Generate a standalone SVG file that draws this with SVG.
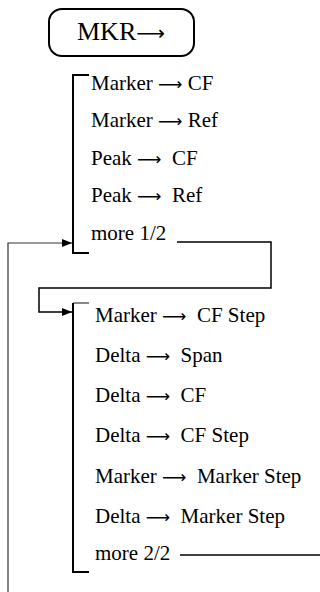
<svg xmlns="http://www.w3.org/2000/svg" width="320" height="592" viewBox="0 0 320 592">
<style>
text{font-family:"Liberation Serif","Times New Roman",serif;font-size:21px;fill:#000;white-space:pre}
.key{font-size:26px}
.ar{font-family:"DejaVu Sans",sans-serif;font-size:17px}
.key .ar{font-size:20px}
.br{fill:none;stroke:#000;stroke-width:2}
.cn{fill:none;stroke:#000;stroke-width:1.5}
</style>
<defs>
<marker id="ah" viewBox="0 0 10 8" refX="10" refY="4" markerWidth="10" markerHeight="8" markerUnits="userSpaceOnUse" orient="auto">
<path d="M0,0 L10,4 L0,8 z" fill="#000"/>
</marker>
</defs>
<rect width="320" height="592" fill="#fff"/>
<g id="mkr-key">
<rect x="49" y="9" width="145" height="47" rx="13" fill="none" stroke="#000" stroke-width="2"/>
<text class="key" x="77" y="40">MKR<tspan class="ar">⟶</tspan></text>
</g>
<g id="menu-1">
<path class="br" d="M89,75 H73 V253 H89"/>
<text x="91" y="90">Marker <tspan class="ar">⟶</tspan> CF</text>
<text x="91" y="127">Marker <tspan class="ar">⟶</tspan> Ref</text>
<text x="91" y="165">Peak <tspan class="ar">⟶</tspan>  CF</text>
<text x="91" y="202">Peak <tspan class="ar">⟶</tspan>  Ref</text>
<text x="91" y="240">more 1/2</text>
</g>
<g id="menu-2">
<path d="M89,303 H73" fill="none" stroke="#888" stroke-width="2"/>
<path class="br" d="M73,303 V572 H89"/>
<text x="95" y="322">Marker <tspan class="ar">⟶</tspan>  CF Step</text>
<text x="95" y="362">Delta <tspan class="ar">⟶</tspan>  Span</text>
<text x="95" y="402">Delta <tspan class="ar">⟶</tspan>  CF</text>
<text x="95" y="442">Delta <tspan class="ar">⟶</tspan>  CF Step</text>
<text x="95" y="483">Marker <tspan class="ar">⟶</tspan>  Marker Step</text>
<text x="95" y="523">Delta <tspan class="ar">⟶</tspan>  Marker Step</text>
<text x="95" y="560">more 2/2</text>
</g>
<g id="connectors">
<path class="cn" d="M177,242 H271 V288 H39 V312 H72" marker-end="url(#ah)"/>
<path class="cn" d="M180,555 H320"/>
<path d="M8,592 V243 H72" fill="none" stroke="#333" stroke-width="1.2" marker-end="url(#ah)"/>
</g>
</svg>
